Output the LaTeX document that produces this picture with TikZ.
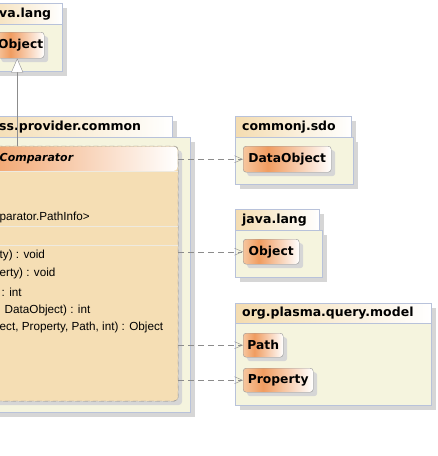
\documentclass[tikz,border=0pt]{standalone}
\usepackage{fontspec}
\setmainfont{Liberation Sans}
\newfontfamily\namefont{DejaVu Sans}
\usetikzlibrary{arrows.meta,shadows}

\definecolor{pkgfill}{RGB}{245,244,222}
\definecolor{pkgline}{RGB}{184,194,218}
\definecolor{tabtan}{RGB}{244,220,176}
\definecolor{shadegrey}{RGB}{214,214,214}
\definecolor{clsline}{RGB}{150,150,150}
\definecolor{clsfill}{RGB}{245,222,180}
\definecolor{clspeak}{RGB}{240,156,96}
\definecolor{clsedge}{RGB}{246,198,158}
\definecolor{sepline}{RGB}{238,234,224}
\definecolor{depline}{RGB}{140,140,140}

\pgfdeclarehorizontalshading{clsgrad}{100bp}{color(0bp)=(clsedge); color(25bp)=(clsedge); color(39bp)=(clspeak); color(75bp)=(white); color(100bp)=(white)}

\tikzset{
  flatshadow/.style={general shadow={fill=shadegrey, shadow xshift=#1, shadow yshift=-#1}},
  pkgtab/.style={draw=pkgline, left color=tabtan, right color=white, flatshadow=5pt},
  pkgbody/.style={draw=pkgline, fill=pkgfill, flatshadow=5pt},
  pkgname/.style={anchor=west, inner sep=0pt, font=\namefont\bfseries\fontsize{12.5}{14}\selectfont},
  cls/.style={draw=clsline, shading=clsgrad, rounded corners=3pt, anchor=north west,
    inner sep=0pt, minimum height=26pt, flatshadow=4pt,
    font=\namefont\bfseries\fontsize{12.3}{14}\selectfont},
  member/.style={anchor=west, inner sep=0pt, font=\fontsize{11.7}{13}\selectfont},
  dep/.style={draw=depline, dash pattern=on 6pt off 4pt, -{Straight Barb[length=8pt,width=7pt]}},
  inherit/.style={draw=depline, -{Triangle[open,length=14pt,width=12pt,fill=white]}}
}

\begin{document}
\begin{tikzpicture}[x=1pt, y=-1pt]
  \useasboundingbox (0,0) rectangle (438,456);

  % package java.lang (top left)
  \path[pkgtab] (-20,3) rectangle (62,24);
  \path[pkgbody] (-20,24) rectangle (62,71);
  \node[pkgname] (langtopname) at (-1,14) {va.lang};
  \node[cls, minimum width=47pt] (objtop) at (-3,32) {Object};

  % package ...provider.common
  \path[pkgtab] (-20,116) rectangle (172,137);
  \path[pkgbody] (-20,137) rectangle (190,412);
  \node[pkgname] (commonname) at (-1,127) {ss.provider.common};

  % class Comparator
  \node[draw=clsline, dash pattern=on 5pt off 3pt, fill=clsfill, rounded corners=4pt,
    anchor=north west, inner sep=0pt, minimum width=188pt, minimum height=255pt,
    flatshadow=4pt] (cmp) at (-10,146) {};
  \path[left color=clspeak!90!white, right color=white, rounded corners=4pt]
    (-9.5,146.5) -- (177.5,146.5) -- (177.5,171) -- (-9.5,171) -- cycle;
  \draw[clsline, dash pattern=on 5pt off 3pt, rounded corners=4pt]
    (-10,146) rectangle (178,401);
  \draw[sepline] (-9.5,171) -- (177.5,171);
  \draw[sepline] (-9.5,226.5) -- (177.5,226.5);
  \draw[sepline] (-9.5,245) -- (177.5,245);
  \node[anchor=west, inner sep=0pt, font=\namefont\bfseries\itshape\fontsize{11}{13}\selectfont]
    (cmpname) at (-0.5,159) {Comparator};
  \node[member] (attr) at (-0.5,217.5) {parator.PathInfo>};
  \node[member] (opa) at (-0.5,255.5) {ty) : void};
  \node[member] (opb) at (-0.5,273.5) {erty) : void};
  \node[member] (opc) at (1.5,292) {: int};
  \node[member] (opd) at (4.5,310) {DataObject) : int};
  \node[member] (ope) at (-0.5,327.5) {ect, Property, Path, int) : Object};

  % package commonj.sdo
  \path[pkgtab] (235,116) rectangle (351,137);
  \path[pkgbody] (235,137) rectangle (353,184);
  \node[pkgname] (sdoname) at (242,127) {commonj.sdo};
  \node[cls, minimum width=88pt] (dobj) at (243,146) {DataObject};

  % package java.lang
  \path[pkgtab] (235,209) rectangle (319,230);
  \path[pkgbody] (235,230) rectangle (322,277);
  \node[pkgname] (langname) at (242,220) {java.lang};
  \node[cls, minimum width=56pt, minimum height=25pt] (obj) at (243,239) {Object};

  % package org.plasma.query.model
  \path[pkgtab] (235,303) rectangle (431,323);
  \path[pkgbody] (235,323) rectangle (431,405);
  \node[pkgname] (modelname) at (242,313) {org.plasma.query.model};
  \node[cls, minimum width=40pt, minimum height=24pt] (path) at (243,333) {Path};
  \node[cls, minimum width=70pt, minimum height=24pt] (prop) at (243,368) {Property};

  % connectors
  \draw[inherit] ([xshift=-3.5pt]cmp.north -| objtop.south) -- ([xshift=-3.5pt]objtop.south);
  \draw[dep] (dobj.west -| cmp.east) -- (dobj.west);
  \draw[dep] (obj.west -| cmp.east) -- (obj.west);
  \draw[dep] (path.west -| cmp.east) -- (path.west);
  \draw[dep] (prop.west -| cmp.east) -- (prop.west);
\end{tikzpicture}
\end{document}
